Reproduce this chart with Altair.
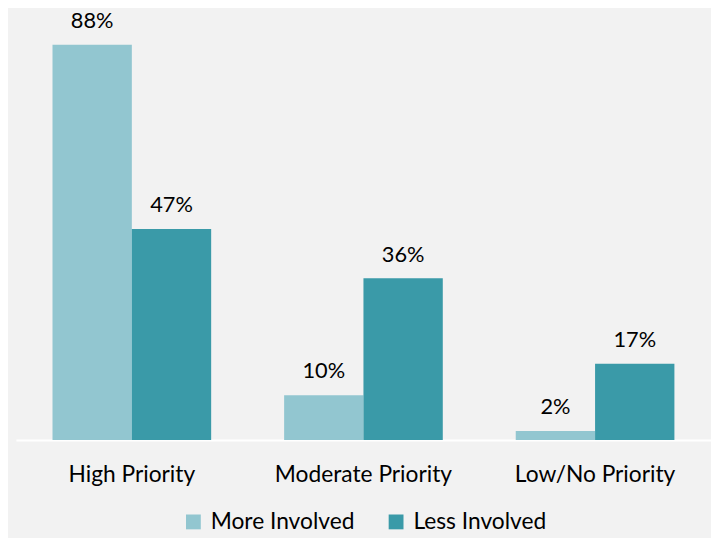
import altair as alt
import pandas as pd

categories = ["High Priority", "Moderate Priority", "Low/No Priority"]
series = ["More Involved", "Less Involved"]
more_involved = [88, 10, 2]
less_involved = [47, 36, 17]
colors = ["#92c6d0", "#3a9aa8"]

rows = []
for c, m, l in zip(categories, more_involved, less_involved):
    rows.append({"category": c, "series": series[0], "value": m, "label": f"{m}%"})
    rows.append({"category": c, "series": series[1], "value": l, "label": f"{l}%"})
df = pd.DataFrame(rows)

FONT = "Lato"

x = alt.X("category:N", sort=categories, title=None,
          scale=alt.Scale(paddingInner=0.315, paddingOuter=0.158),
          axis=alt.Axis(labelAngle=0, ticks=False, domainColor="white", domainWidth=2,
                        labelFontSize=23, labelPadding=24, labelColor="#000000", labelFont=FONT))
xo = alt.XOffset("series:N", sort=series, scale=alt.Scale(paddingInner=0, paddingOuter=0))
y = alt.Y("value:Q", scale=alt.Scale(domain=[0, 90]), axis=None)

bars = alt.Chart(df).mark_bar().encode(
    x=x, xOffset=xo, y=y,
    color=alt.Color("series:N", sort=series,
                    scale=alt.Scale(domain=series, range=colors),
                    legend=alt.Legend(title=None, orient="none", direction="horizontal",
                                      legendX=168, legendY=480, symbolType="square",
                                      symbolSize=225, symbolStrokeWidth=0, labelFontSize=23,
                                      labelFont=FONT, labelColor="#000000", labelOffset=6,
                                      columnPadding=30, padding=0)),
)

text = alt.Chart(df).mark_text(fontSize=22, font=FONT, color="#000000", dy=-17,
                               baseline="alphabetic").encode(
    x=x, xOffset=xo, y=y, text="label:N"
)

chart = (bars + text).properties(
    width=703, height=409,
    autosize=alt.AutoSizeParams(type="none"),
    padding={"left": 8, "top": 25, "right": 0, "bottom": 96},
    background="#f2f2f2",
).configure_view(stroke=None)

chart.save("out.html", embed_options={"renderer": "svg", "actions": False})
